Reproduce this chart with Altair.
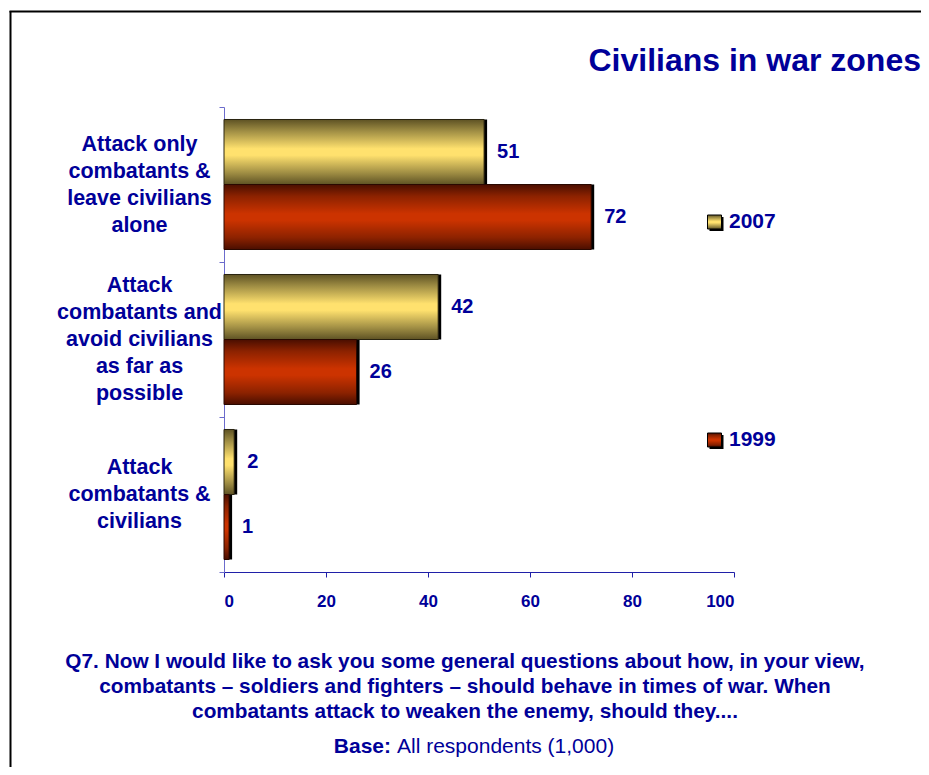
import altair as alt
import pandas as pd

categories = [
    "Attack only\ncombatants &\nleave civilians\nalone",
    "Attack\ncombatants and\navoid civilians\nas far as\npossible",
    "Attack\ncombatants &\ncivilians",
]
years = ["2007", "1999"]
values_2007 = [51, 42, 2]
values_1999 = [72, 26, 1]
title_text = "Civilians in war zones"
footnote_lines = [
    "Q7. Now I would like to ask you some general questions about how, in your view,",
    "combatants \u2013 soldiers and fighters \u2013 should behave in times of war. When",
    "combatants attack to weaken the enemy, should they....",
]
base_bold = "Base:"
base_regular = "All respondents (1,000)"

rows = []
for c, v07, v99 in zip(categories, values_2007, values_1999):
    rows.append({"category": c, "year": "2007", "value": v07})
    rows.append({"category": c, "year": "1999", "value": v99})
df = pd.DataFrame(rows)

NAVY = "#000099"
FONT = "Liberation Sans"
LINE_H = 27


def grad(dark, mid, light):
    return alt.LinearGradient(
        gradient="linear", x1=0, x2=0, y1=0, y2=1,
        stops=[
            alt.GradientStop(offset=0, color=dark),
            alt.GradientStop(offset=0.18, color=mid),
            alt.GradientStop(offset=0.45, color=light),
            alt.GradientStop(offset=0.55, color=light),
            alt.GradientStop(offset=0.82, color=mid),
            alt.GradientStop(offset=1, color=dark),
        ],
    )


yellow = grad("#5e5224", "#a08e44", "#ffe16e")
red = grad("#4a0e00", "#8c2200", "#cc3300")

# centre each multi-line label block on its band
offset_conditions = [
    {"test": f"datum.value === {repr(c)}".replace("\n", "\\n"),
     "value": -(c.count("\n")) * LINE_H / 2}
    for c in categories
]

y_enc = alt.Y(
    "category:N", sort=categories, title=None,
    scale=alt.Scale(paddingInner=0, paddingOuter=0),
    axis=alt.Axis(
        labelExpr="split(datum.label, '\\n')",
        labelAlign="center", labelBaseline="middle", labelPadding=80,
        labelOffset={"condition": offset_conditions, "value": 0},
        labelFontSize=21.5, labelFontWeight="bold", labelColor=NAVY, labelFont=FONT,
        labelLineHeight=LINE_H, tickBand="extent", tickSize=5,
        domainColor="#6b6bcc", tickColor="#6b6bcc", grid=False, labelLimit=300,
    ),
)
yoff_enc = alt.YOffset(
    "year:N", sort=years,
    scale=alt.Scale(domain=years, paddingInner=0, paddingOuter=0.1923),
)
x_enc = alt.X(
    "value:Q", title=None,
    scale=alt.Scale(domain=[0, 100]),
    axis=alt.Axis(
        values=[0, 20, 40, 60, 80, 100], tickSize=5, labelPadding=16,
        labelFontSize=17, labelFontWeight="bold", labelColor=NAVY, labelFont=FONT,
        domainColor="#2020a8", tickColor="#2020a8", grid=False,
    ),
)

base = alt.Chart(df).encode(y=y_enc, yOffset=yoff_enc, x=x_enc)

shadow = base.mark_bar(color="black", xOffset=3, yOffset=3)
bars07 = base.transform_filter("datum.year == '2007'").mark_bar(
    fill=yellow, stroke="#2a2410", strokeWidth=1)
bars99 = base.transform_filter("datum.year == '1999'").mark_bar(
    fill=red, stroke="#2a0800", strokeWidth=1)
labels = base.mark_text(
    align="left", baseline="middle", dx=13, fontSize=20, fontWeight="bold",
    color=NAVY, font=FONT,
).encode(text="value:Q")

one = pd.DataFrame({"k": [0]})
leg = alt.Chart(pd.DataFrame({"year": years}))

legend_layers = []
for yr, fill, ypos in [("2007", yellow, 115), ("1999", red, 333)]:
    src = leg.transform_filter(f"datum.year == '{yr}'")
    legend_layers.append(src.mark_square(size=196, color="black", opacity=1).encode(
        x=alt.value(492.5), y=alt.value(ypos + 2)))
    legend_layers.append(src.mark_square(size=196, fill=fill, stroke="black",
                                         strokeWidth=1, opacity=1).encode(
        x=alt.value(490.5), y=alt.value(ypos)))
    legend_layers.append(src.mark_text(
        align="left", baseline="middle", fontSize=21, fontWeight="bold",
        color=NAVY, font=FONT).encode(
        x=alt.value(505), y=alt.value(ypos), text="year:N"))

deco = alt.Chart(one)
title = deco.mark_text(
    text=title_text, align="right", baseline="middle", fontSize=32,
    fontWeight="bold", color=NAVY, font=FONT,
).encode(x=alt.value(697), y=alt.value(-46))
foot = deco.mark_text(
    text=footnote_lines, align="center", baseline="middle", fontSize=20.8,
    fontWeight="bold", color=NAVY, font=FONT, lineHeight=25,
).encode(x=alt.value(241), y=alt.value(555))
base_b = deco.mark_text(
    text=base_bold, align="right", baseline="middle", fontSize=21,
    fontWeight="bold", color=NAVY, font=FONT,
).encode(x=alt.value(167), y=alt.value(640))
base_r = deco.mark_text(
    text=base_regular, align="left", baseline="middle", fontSize=21,
    color=NAVY, font=FONT,
).encode(x=alt.value(173), y=alt.value(640))
frame_left = deco.mark_rule(color="black", strokeWidth=2).encode(
    x=alt.value(-213.5), y=alt.value(-96), y2=alt.value(700))
frame_top = deco.mark_rule(color="black", strokeWidth=2).encode(
    x=alt.value(-214.5), x2=alt.value(720), y=alt.value(-95.5))

chart = alt.layer(
    frame_left, frame_top, shadow, bars07, bars99, labels, *legend_layers,
    title, foot, base_b, base_r,
).properties(
    width=510, height=465,
    autosize=alt.AutoSizeParams(type="none"),
    padding={"left": 216, "top": 99, "right": 187, "bottom": 195},
    background="white",
).configure_view(strokeWidth=0)

chart.save("out.html", embed_options={"renderer": "svg", "actions": False})
